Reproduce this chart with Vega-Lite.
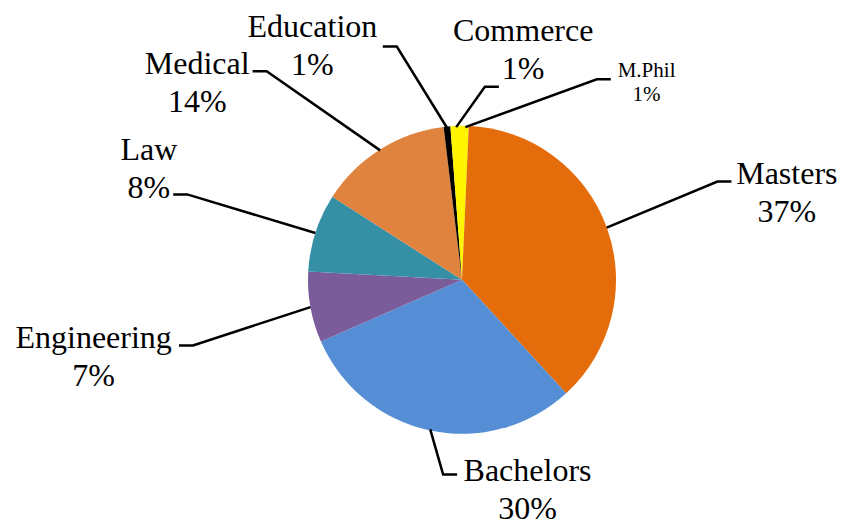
{
  "$schema": "https://vega.github.io/schema/vega-lite/v6.json",
  "width": 841,
  "height": 525,
  "autosize": {"type": "fit", "contains": "padding"},
  "padding": 0,
  "background": "white",
  "config": {"view": {"stroke": null}, "font": "Liberation Serif, Times New Roman, DejaVu Serif, serif"},
  "data": {
    "values": [
      {"category": "M.Phil", "value": 0.7, "order": 0},
      {"category": "Masters", "value": 37.4, "order": 1},
      {"category": "Bachelors", "value": 30.2, "order": 2},
      {"category": "Engineering", "value": 7.4, "order": 3},
      {"category": "Law", "value": 8.2, "order": 4},
      {"category": "Medical", "value": 14.0, "order": 5},
      {"category": "Education", "value": 0.7, "order": 6},
      {"category": "Commerce", "value": 1.2, "order": 7}
    ]
  },
  "transform": [
    {"joinaggregate": [{"op": "sum", "field": "value", "as": "total"}]},
    {"window": [{"op": "sum", "field": "value", "as": "cum"}], "sort": [{"field": "order", "order": "ascending"}], "frame": [null, 0]},
    {"calculate": "2*PI*(datum.cum - datum.value/2)/datum.total", "as": "mid"},
    {"calculate": "[33.7,68.8,185.5,256.2,287.4,317.1,344.5,6.7][datum.order]*PI/180", "as": "ea"},
    {"calculate": "[243,274,197,277,288,287,244,196][datum.order]", "as": "er"},
    {"calculate": "[1,1,1,-1,-1,-1,-1,1][datum.order]", "as": "side"},
    {"calculate": "[0.2,0,-0.1,0,1,0,0.34,1.3][datum.order]", "as": "att"},
    {"calculate": "datum.er*sin(datum.ea)", "as": "ex"},
    {"calculate": "datum.er*cos(datum.ea)", "as": "ey"},
    {"calculate": "datum.ex + datum.side*14", "as": "sx"},
    {"calculate": "round(datum.value) + '%'", "as": "pct"}
  ],
  "layer": [
    {
      "mark": {"type": "arc", "outerRadius": 154},
      "encoding": {
        "theta": {"field": "value", "type": "quantitative", "stack": true},
        "order": {"field": "order", "type": "quantitative"},
        "color": {
          "field": "category",
          "type": "nominal",
          "scale": {
            "domain": ["M.Phil", "Masters", "Bachelors", "Engineering", "Law", "Medical", "Education", "Commerce"],
            "range": ["#FFF500", "#E46C0A", "#558ED5", "#7B5C9A", "#3590A6", "#E0833E", "#000000", "#FFF500"]
          },
          "legend": null
        },
        "x": {"datum": 0, "type": "quantitative", "scale": {"domain": [-462, 379], "nice": false, "zero": false}, "axis": null},
        "y": {"datum": 0, "type": "quantitative", "scale": {"domain": [-243, 282], "nice": false, "zero": false}, "axis": null}
      }
    },
    {
      "transform": [
        {"calculate": "[154*sin(datum.mid), datum.ex, datum.sx]", "as": "xs"},
        {"calculate": "[154*cos(datum.mid), datum.ey, datum.ey]", "as": "ys"},
        {"calculate": "[0,1,2]", "as": "k"},
        {"flatten": ["xs", "ys", "k"]}
      ],
      "mark": {"type": "line", "color": "#000000", "strokeWidth": 2.5},
      "encoding": {
        "x": {"field": "xs", "type": "quantitative", "scale": {"domain": [-462, 379], "nice": false, "zero": false}, "axis": null},
        "y": {"field": "ys", "type": "quantitative", "scale": {"domain": [-243, 282], "nice": false, "zero": false}, "axis": null},
        "detail": {"field": "category", "type": "nominal"},
        "order": {"field": "k", "type": "quantitative"}
      }
    },
    {
      "transform": [
        {"filter": "datum.category != 'M.Phil'"},
        {"calculate": "[datum.category, datum.pct]", "as": "lbl"},
        {"calculate": "datum.att >= 1 ? ((length(datum.pct)-1)*0.5 + 0.833)*32 : length(datum.category)*0.468*32", "as": "aw"},
        {"calculate": "datum.sx + datum.side*(3 + datum.aw/2)", "as": "tx"},
        {"calculate": "datum.ey - 3 + datum.att*38", "as": "ty"}
      ],
      "mark": {"type": "text", "align": "center", "baseline": "alphabetic", "font": "Liberation Serif", "fontSize": 32, "lineHeight": 38, "color": "#000000"},
      "encoding": {
        "x": {"field": "tx", "type": "quantitative", "scale": {"domain": [-462, 379], "nice": false, "zero": false}, "axis": null},
        "y": {"field": "ty", "type": "quantitative", "scale": {"domain": [-243, 282], "nice": false, "zero": false}, "axis": null},
        "text": {"field": "lbl"}
      }
    },
    {
      "transform": [
        {"filter": "datum.category == 'M.Phil'"},
        {"calculate": "[datum.category, datum.pct]", "as": "lbl"},
        {"calculate": "length(datum.category)*0.52*21", "as": "aw"},
        {"calculate": "datum.sx + datum.side*(3 + datum.aw/2)", "as": "tx"},
        {"calculate": "datum.ey - 3 + datum.att*24", "as": "ty"}
      ],
      "mark": {"type": "text", "align": "center", "baseline": "alphabetic", "font": "Liberation Serif", "fontSize": 21, "lineHeight": 24, "color": "#000000"},
      "encoding": {
        "x": {"field": "tx", "type": "quantitative", "scale": {"domain": [-462, 379], "nice": false, "zero": false}, "axis": null},
        "y": {"field": "ty", "type": "quantitative", "scale": {"domain": [-243, 282], "nice": false, "zero": false}, "axis": null},
        "text": {"field": "lbl"}
      }
    }
  ]
}
